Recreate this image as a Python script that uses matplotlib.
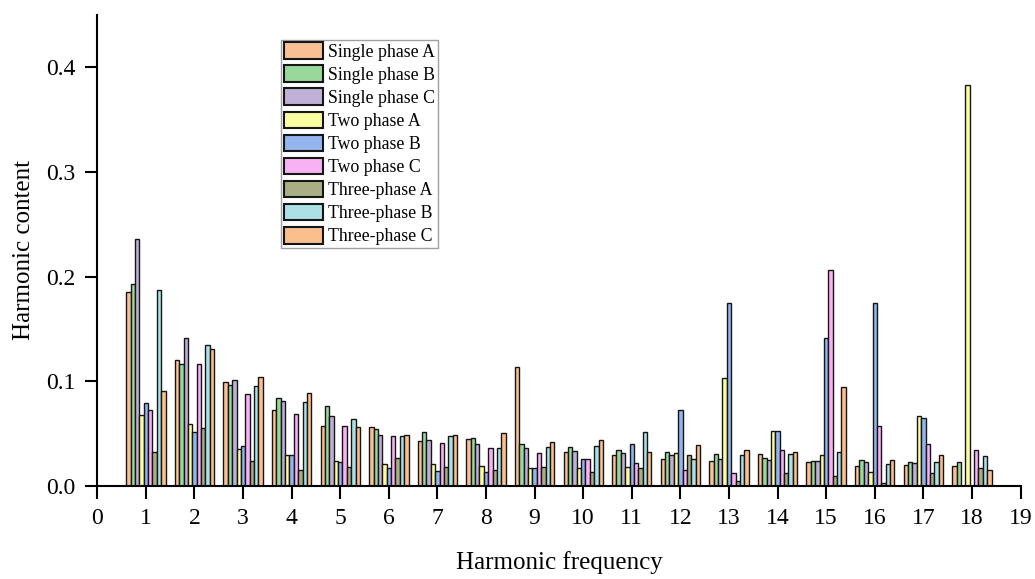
import matplotlib
matplotlib.use("Agg")
import matplotlib.pyplot as plt
import numpy as np

plt.rcParams["font.family"] = ["Liberation Serif", "DejaVu Serif"]

harmonics = np.arange(1, 19)

series_names = [
    "Single phase A", "Single phase B", "Single phase C",
    "Two phase A", "Two phase B", "Two phase C",
    "Three-phase A", "Three-phase B", "Three-phase C",
]

single_a = [0.185, 0.120, 0.099, 0.072, 0.057, 0.056, 0.043, 0.045, 0.114,
            0.032, 0.029, 0.026, 0.024, 0.030, 0.023, 0.019, 0.020, 0.0185]
single_b = [0.193, 0.116, 0.096, 0.084, 0.076, 0.054, 0.051, 0.046, 0.040,
            0.037, 0.034, 0.032, 0.030, 0.027, 0.024, 0.025, 0.023, 0.0226]
single_c = [0.236, 0.141, 0.101, 0.081, 0.067, 0.049, 0.044, 0.040, 0.036,
            0.033, 0.031, 0.029, 0.026, 0.025, 0.024, 0.023, 0.022, 0.0]
two_a = [0.068, 0.059, 0.035, 0.029, 0.024, 0.021, 0.021, 0.019, 0.017,
         0.017, 0.018, 0.031, 0.103, 0.052, 0.029, 0.013, 0.067, 0.3835]
two_b = [0.079, 0.051, 0.038, 0.029, 0.023, 0.017, 0.014, 0.013, 0.017,
         0.026, 0.040, 0.072, 0.1744, 0.052, 0.141, 0.1744, 0.065, 0.0]
two_c = [0.072, 0.116, 0.088, 0.069, 0.057, 0.048, 0.041, 0.036, 0.031,
         0.026, 0.022, 0.015, 0.012, 0.034, 0.206, 0.057, 0.040, 0.034]
three_a = [0.032, 0.055, 0.024, 0.015, 0.018, 0.027, 0.018, 0.015, 0.018,
           0.013, 0.017, 0.029, 0.005, 0.012, 0.009, 0.003, 0.012, 0.017]
three_b = [0.187, 0.135, 0.095, 0.080, 0.064, 0.048, 0.048, 0.036, 0.037,
           0.038, 0.051, 0.026, 0.029, 0.030, 0.032, 0.021, 0.023, 0.028]
three_c = [0.091, 0.131, 0.104, 0.089, 0.056, 0.049, 0.049, 0.050, 0.042,
           0.044, 0.032, 0.039, 0.034, 0.032, 0.094, 0.025, 0.029, 0.015]

all_series = [single_a, single_b, single_c, two_a, two_b, two_c,
              three_a, three_b, three_c]

colors = ["#f8c195", "#99d89b", "#bfb0d8", "#fbfba2", "#93b4ec",
          "#f8b2f4", "#a9ae85", "#ade0e6", "#fbbf8e"]

fig = plt.figure(figsize=(10.35, 5.79), dpi=100)
ax = fig.add_axes([0.094, 0.161, 0.892, 0.813])

width = 0.09
for i, (name, vals, c) in enumerate(zip(series_names, all_series, colors)):
    ax.bar(harmonics + (i - 4) * width, vals, width, color=c, label=name,
           edgecolor="#151515", linewidth=1.0)

ax.set_xlim(0, 19)
ax.set_ylim(0, 0.45)
ax.set_xticks(np.arange(0, 20))
ax.set_yticks([0.0, 0.1, 0.2, 0.3, 0.4])
ax.set_yticklabels(["0.0", "0.1", "0.2", "0.3", "0.4"])
ax.tick_params(direction="out", length=9, width=1.5, labelsize=17)
ax.tick_params(axis="x", pad=7)
ax.tick_params(axis="y", pad=7)
for side in ("top", "right"):
    ax.spines[side].set_visible(False)
for side in ("left", "bottom"):
    ax.spines[side].set_linewidth(1.5)

ax.set_xlabel("Harmonic frequency", fontsize=18, labelpad=16)
ax.set_ylabel("Harmonic content", fontsize=18, labelpad=8)

leg = ax.legend(loc="upper left", bbox_to_anchor=(0.199, 0.948), fontsize=12.8,
                frameon=True, fancybox=False, edgecolor="#888888",
                borderpad=0.15, labelspacing=0.27, handlelength=2.2,
                handleheight=1.05, handletextpad=0.3, borderaxespad=0)
leg.get_frame().set_linewidth(1.0)
for h in leg.legend_handles:
    h.set_linewidth(1.5)

fig.savefig("out.png", dpi=100)
